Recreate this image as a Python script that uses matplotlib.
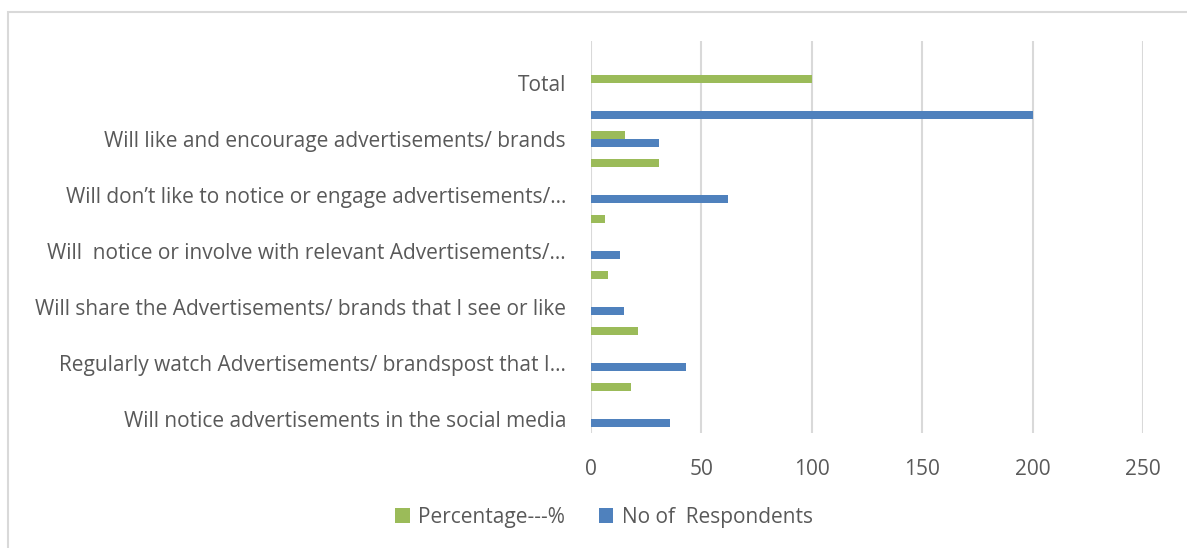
import numpy as np
import matplotlib.pyplot as plt
from matplotlib.patches import Rectangle

# categories bottom -> top; every second label is hidden in the original chart
categories = [
    "Will notice advertisements in the social media", "",
    "Regularly watch Advertisements/ brandspost that I…", "",
    "Will share the Advertisements/ brands that I see or like", "",
    "Will  notice or involve with relevant Advertisements/…", "",
    "Will don’t like to notice or engage advertisements/…", "",
    "Will like and encourage advertisements/ brands", "",
    "Total", "",
]
percentage = [0, 18, 0, 21.5, 0, 7.5, 0, 6.5, 0, 31, 15.5, 0, 100, 0]
respondents = [36, 0, 43, 0, 15, 0, 13, 0, 62, 0, 31, 200, 0, 0]
x_ticks = [0, 50, 100, 150, 200, 250]

green = '#9BBB59'
blue = '#4F81BD'
text_color = '#595959'
grid_color = '#d9d9d9'

plt.rcParams['font.family'] = ['Open Sans', 'DejaVu Sans']
fs = 15

fig = plt.figure(figsize=(11.87, 5.48), dpi=100)
ax = fig.add_axes([591 / 1187, 1 - 433 / 548, 552 / 1187, 392 / 548])

y = np.arange(len(categories))
h = 0.27
ax.barh(y + 0.134, percentage, height=h, color=green, linewidth=0, label="Percentage---%")
ax.barh(y - 0.134, respondents, height=h, color=blue, linewidth=0, label="No of  Respondents")

ax.set_ylim(-0.5, len(categories) - 0.5)
ax.set_xlim(0, 250)
ax.set_xticks(x_ticks)
ax.set_yticks(y)
ax.set_yticklabels(categories)
ax.tick_params(axis='y', length=0, pad=18, labelsize=fs, labelcolor=text_color)
ax.tick_params(axis='x', length=0, pad=19, labelsize=fs, labelcolor=text_color)

ax.grid(axis='x', color=grid_color, linewidth=1.5)
ax.set_axisbelow(True)
for s in ax.spines.values():
    s.set_visible(False)

fig.legend(loc='center', bbox_to_anchor=(604 / 1187, 1 - 517 / 548), ncol=2,
           frameon=False, fontsize=fs, labelcolor=text_color,
           handlelength=0.7, handleheight=0.7, handletextpad=0.4, columnspacing=1.6)

fig.patches.append(Rectangle((8 / 1187, -0.1), 1.2, 1.1 - 12 / 548, transform=fig.transFigure,
                             fill=False, edgecolor=grid_color, linewidth=1.5))

fig.savefig("out.png", dpi=100)
